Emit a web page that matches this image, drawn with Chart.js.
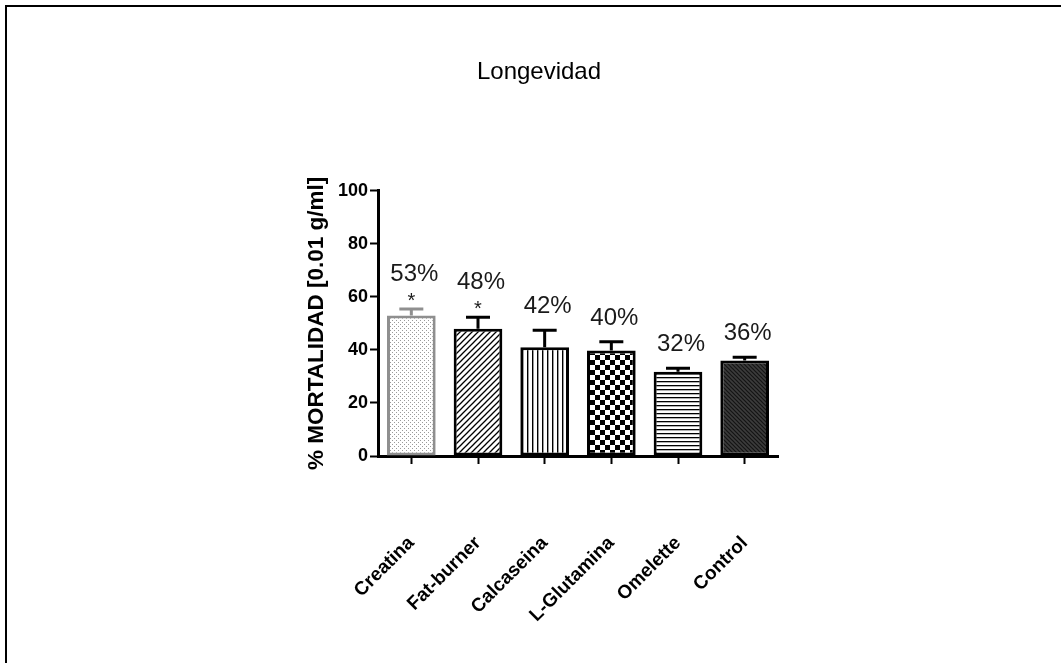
<!DOCTYPE html>
<html>
<head>
<meta charset="utf-8">
<script src="https://cdn.jsdelivr.net/npm/chart.js@4.4.1/dist/chart.umd.min.js"></script>
<style>
body { margin: 0; background: #fff; }
#frame { position: absolute; left: 5px; top: 5px; width: 1060px; height: 660px; border-top: 2px solid #000; border-left: 2px solid #000; }
#myChart { position: absolute; left: 0; top: 0; }
</style>
</head>
<body>
<div id="frame"></div>
<canvas id="myChart" width="1061" height="663"></canvas>
<script>
var labels = ["Creatina", "Fat-burner", "Calcaseina", "L-Glutamina", "Omelette", "Control"];
var mortalidad = [53, 48, 41, 39.8, 31.8, 36];
var errores = [2.4, 4.3, 6.4, 3.3, 1.3, 1.2];
var porcentajes = ["53%", "48%", "42%", "40%", "32%", "36%"];
var significativo = [true, true, false, false, false, false];

var ctx = document.getElementById("myChart").getContext("2d");
var FONT = "'Liberation Sans', Arial, sans-serif";

function makePattern(size, draw) {
	var c = document.createElement("canvas");
	c.width = size;
	c.height = size;
	var g = c.getContext("2d");
	draw(g, size);
	return ctx.createPattern(c, "repeat");
}

// fill patterns, one per bar
var puntos = makePattern(4, function(g, s) {
	g.fillStyle = "#fff"; g.fillRect(0, 0, s, s);
	g.fillStyle = "#9a9a9a"; g.fillRect(0, 0, 1, 1); g.fillRect(2, 2, 1, 1);
});
var diagonal = makePattern(6, function(g, s) {
	g.fillStyle = "#fff"; g.fillRect(0, 0, s, s);
	g.strokeStyle = "#000"; g.lineWidth = 1.3;
	g.beginPath();
	g.moveTo(0, s); g.lineTo(s, 0);
	g.moveTo(-1, 1); g.lineTo(1, -1);
	g.moveTo(s - 1, s + 1); g.lineTo(s + 1, s - 1);
	g.stroke();
});
var verticales = makePattern(5, function(g, s) {
	g.fillStyle = "#fff"; g.fillRect(0, 0, s, s);
	g.fillStyle = "#000"; g.fillRect(2, 0, 1.4, s);
});
var cuadros = makePattern(10, function(g, s) {
	g.fillStyle = "#fff"; g.fillRect(0, 0, s, s);
	g.fillStyle = "#000"; g.fillRect(0, 0, 5, 5); g.fillRect(5, 5, 5, 5);
});
var horizontales = makePattern(4, function(g, s) {
	g.fillStyle = "#fff"; g.fillRect(0, 0, s, s);
	g.fillStyle = "#000"; g.fillRect(0, 1, s, 1.3);
});
var oscuro = makePattern(4, function(g, s) {
	g.fillStyle = "#3c3c3c"; g.fillRect(0, 0, s, s);
	g.strokeStyle = "#141414"; g.lineWidth = 1.2;
	g.beginPath();
	g.moveTo(0, 0); g.lineTo(s, s);
	g.moveTo(-1, s - 1); g.lineTo(1, s + 1);
	g.moveTo(s - 1, -1); g.lineTo(s + 1, 1);
	g.stroke();
});

var bordes = ["#8f8f8f", "#000", "#000", "#000", "#000", "#000"];

// error bars (upper half) + percentage labels
var extras = {
	id: "extras",
	afterDatasetsDraw: function(chart) {
		var c = chart.ctx;
		var y = chart.scales.y;
		var meta = chart.getDatasetMeta(0);
		c.save();
		meta.data.forEach(function(bar, i) {
			var yBar = y.getPixelForValue(mortalidad[i]);
			var yTop = y.getPixelForValue(mortalidad[i] + errores[i]);
			c.strokeStyle = bordes[i];
			c.lineWidth = 3;
			c.beginPath();
			c.moveTo(bar.x, yBar);
			c.lineTo(bar.x, yTop);
			c.moveTo(bar.x - 12, yTop);
			c.lineTo(bar.x + 12, yTop);
			c.stroke();

			c.fillStyle = "#1a1a1a";
			c.textAlign = "center";
			c.textBaseline = "alphabetic";
			var gap = 17;
			if (significativo[i]) {
				c.font = "20px " + FONT;
				c.fillText("*", bar.x, yTop - 2);
				gap = 28;
			}
			c.font = "24px " + FONT;
			c.fillText(porcentajes[i], bar.x + 3, yTop - gap);
		});
		c.restore();
	}
};

var myChart = new Chart(ctx, {
	type: "bar",
	data: {
		labels: labels,
		datasets: [{
			label: "% Mortalidad",
			data: mortalidad,
			backgroundColor: [puntos, diagonal, verticales, cuadros, horizontales, oscuro],
			borderColor: bordes,
			borderWidth: 3,
			borderSkipped: false,
			categoryPercentage: 1,
			barPercentage: 0.73
		}]
	},
	options: {
		responsive: false,
		animation: false,
		devicePixelRatio: 1,
		layout: { padding: { left: 300, right: 283, top: 0, bottom: 7 } },
		plugins: {
			legend: { display: false },
			tooltip: { enabled: false },
			title: {
				display: true,
				text: "Longevidad",
				color: "#000",
				font: { family: FONT, size: 24, weight: "normal" },
				padding: { top: 58, bottom: 104 }
			}
		},
		scales: {
			x: {
				afterFit: function(scale) { scale.height = 200; },
				grid: { display: true, drawOnChartArea: false, offset: false, tickLength: 8, tickWidth: 2, tickColor: "#000" },
				border: { display: true, color: "#000", width: 3 },
				ticks: {
					color: "#000",
					minRotation: 45,
					maxRotation: 45,
					padding: 68,
					font: { family: FONT, size: 19, weight: "bold" }
				}
			},
			y: {
				min: 0,
				max: 100,
				afterFit: function(scale) { scale.width = 78; },
				grid: { display: true, drawOnChartArea: false, tickLength: 8, tickWidth: 2, tickColor: "#000" },
				border: { display: true, color: "#000", width: 3 },
				ticks: {
					stepSize: 20,
					color: "#000",
					padding: 2,
					font: { family: FONT, size: 18, weight: "bold" }
				},
				title: {
					display: true,
					text: "% MORTALIDAD [0.01 g/ml]",
					color: "#000",
					padding: { top: 3, bottom: 0 },
					font: { family: FONT, size: 22.5, weight: "bold" }
				}
			}
		}
	},
	plugins: [extras]
});
</script>
</body>
</html>
